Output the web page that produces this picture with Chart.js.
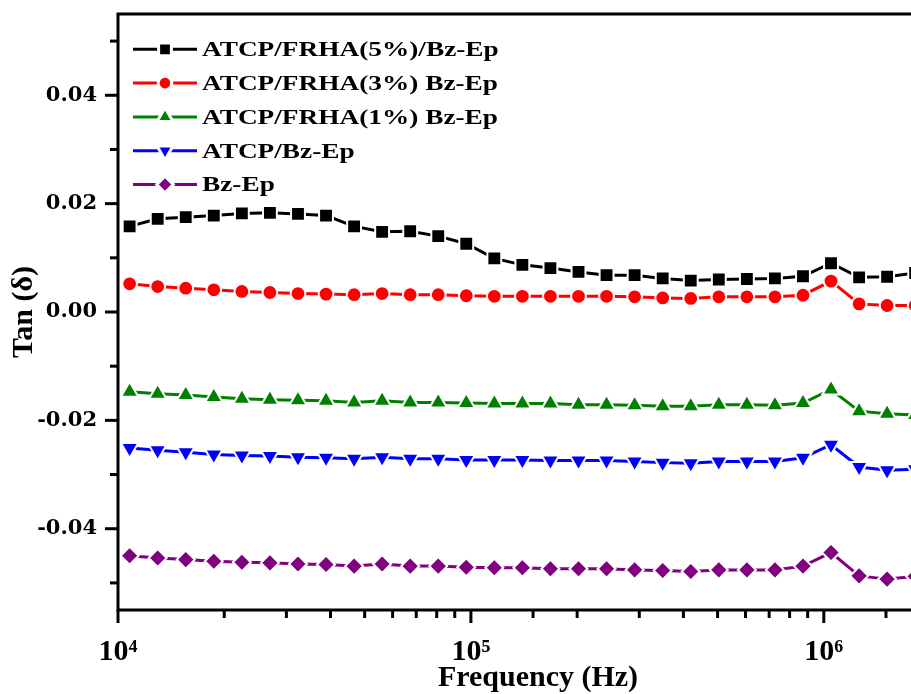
<!DOCTYPE html>
<html><head><meta charset="utf-8">
<script src="https://cdn.jsdelivr.net/npm/chart.js@4.4.1/dist/chart.umd.min.js"></script>
<style>
html,body{margin:0;padding:0;background:#fff;overflow:hidden;width:911px;height:694px}
#wrap{width:970px;height:694px;position:relative}
canvas{display:block}
</style></head><body><div id="wrap"><canvas id="c" width="970" height="694"></canvas></div>
<script>
// ---- data ----
const frequencies = [10787, 12955, 15557, 18684, 22438, 26945, 32359, 38854, 46666, 56028,
  67283, 80798, 97006, 116500, 139900, 168000, 201800, 242300, 291000, 349500,
  419700, 504000, 605300, 726900, 872900, 1048000, 1259000, 1511000, 1815000];
const seriesLabels = ['ATCP/FRHA(5%)/Bz-Ep', 'ATCP/FRHA(3%) Bz-Ep', 'ATCP/FRHA(1%) Bz-Ep', 'ATCP/Bz-Ep', 'Bz-Ep'];
const tanFRHA5 = [0.0158, 0.0172, 0.0175, 0.0178, 0.0182, 0.0183, 0.0181, 0.0178, 0.0158, 0.0148,
  0.0149, 0.0140, 0.0126, 0.0099, 0.0087, 0.0081, 0.0074, 0.0068, 0.0068, 0.0062,
  0.0058, 0.0060, 0.0061, 0.0062, 0.0066, 0.0090, 0.0064, 0.0065, 0.0072];
const tanFRHA3 = [0.0052, 0.0047, 0.0044, 0.0041, 0.0038, 0.0036, 0.0034, 0.0033, 0.0032, 0.0034,
  0.0032, 0.0032, 0.0030, 0.0029, 0.0029, 0.0029, 0.0029, 0.0029, 0.0028, 0.0026,
  0.0025, 0.0028, 0.0028, 0.0028, 0.0031, 0.0057, 0.0015, 0.0012, 0.0012];
const tanFRHA1 = [-0.0147, -0.0151, -0.0153, -0.0157, -0.0160, -0.0162, -0.0163, -0.0164, -0.0167, -0.0164,
  -0.0167, -0.0167, -0.0168, -0.0169, -0.0169, -0.0169, -0.0171, -0.0171, -0.0172, -0.0174,
  -0.0174, -0.0171, -0.0171, -0.0172, -0.0168, -0.0143, -0.0183, -0.0188, -0.0190];
const tanATCP = [-0.0251, -0.0255, -0.0259, -0.0263, -0.0265, -0.0266, -0.0268, -0.0269, -0.0271, -0.0268,
  -0.0271, -0.0271, -0.0273, -0.0273, -0.0273, -0.0274, -0.0274, -0.0274, -0.0276, -0.0278,
  -0.0279, -0.0276, -0.0276, -0.0276, -0.0269, -0.0245, -0.0286, -0.0292, -0.0290];
const tanBzEp = [-0.0450, -0.0454, -0.0457, -0.0460, -0.0462, -0.0463, -0.0465, -0.0466, -0.0469, -0.0465,
  -0.0469, -0.0469, -0.0471, -0.0472, -0.0472, -0.0474, -0.0474, -0.0474, -0.0476, -0.0477,
  -0.0479, -0.0476, -0.0476, -0.0476, -0.0469, -0.0444, -0.0487, -0.0493, -0.0488];
const xTickValues = [1e4, 1e5, 1e6];
const xTickLabels = ['10\u2074', '10\u2075', '10\u2076'];
const yTickSteps = [-0.05, -0.04, -0.03, -0.02, -0.01, 0, 0.01, 0.02, 0.03, 0.04, 0.05];
const yTickValues = [-0.04, -0.02, 0, 0.02, 0.04];
const yTickLabels = ['-0.04', '-0.02', '0.00', '0.02', '0.04'];

// ---- styles ----
const seriesStyles = [
  {color: '#000000', pointStyle: 'rect', radius: 9.8, rotation: 0},
  {color: '#ff0000', pointStyle: 'circle', radius: 7.4, rotation: 0},
  {color: '#008000', pointStyle: 'triangle', radius: 10, rotation: 0},
  {color: '#0000ff', pointStyle: 'triangle', radius: 10, rotation: 180},
  {color: '#800080', pointStyle: 'rectRot', radius: 9, rotation: 0}
];
const seriesValues = [tanFRHA5, tanFRHA3, tanFRHA1, tanATCP, tanBzEp];

const datasets = seriesValues.map((vals, i) => ({
  label: seriesLabels[i],
  data: frequencies.map((f, j) => ({x: f, y: vals[j]})),
  borderColor: seriesStyles[i].color,
  backgroundColor: seriesStyles[i].color,
  pointBackgroundColor: seriesStyles[i].color,
  pointBorderColor: '#ffffff',
  pointBorderWidth: 2,
  borderWidth: 3,
  pointStyle: seriesStyles[i].pointStyle,
  pointRotation: seriesStyles[i].rotation,
  pointRadius: seriesStyles[i].radius,
  tension: 0
}));

const serif = '"Liberation Serif", "Times New Roman", serif';

const framePlugin = {
  id: 'frame',
  afterDraw(chart) {
    const {ctx, chartArea: {left, top, right, bottom}, scales: {x, y}} = chart;
    ctx.save();
    ctx.strokeStyle = '#000';
    ctx.lineCap = 'butt';
    ctx.lineWidth = 3;
    ctx.beginPath();
    ctx.moveTo(left - 1.5, top); ctx.lineTo(right, top);
    ctx.moveTo(left, top); ctx.lineTo(left, bottom + 1.5);
    ctx.moveTo(left - 1.5, bottom); ctx.lineTo(right, bottom);
    ctx.stroke();
    x.ticks.forEach(t => {
      const px = x.getPixelForValue(t.value);
      if (px < left - 1 || px > right - 1) return;
      const len = t.label ? 13 : 8;
      ctx.beginPath(); ctx.moveTo(px, bottom); ctx.lineTo(px, bottom + len); ctx.stroke();
    });
    y.ticks.forEach(t => {
      const py = y.getPixelForValue(t.value);
      if (py < top + 1 || py > bottom - 1) return;
      const len = t.label ? 13 : 8;
      ctx.beginPath(); ctx.moveTo(left, py); ctx.lineTo(left - len, py); ctx.stroke();
    });
    ctx.restore();
  }
};

const legendPlugin = {
  id: 'insideLegend',
  afterDatasetsDraw(chart, args, opts) {
    const {ctx} = chart;
    ctx.save();
    chart.data.datasets.forEach((ds, i) => {
      const cy = opts.top + i * opts.step;
      ctx.strokeStyle = ds.borderColor;
      ctx.lineWidth = ds.borderWidth;
      ctx.beginPath(); ctx.moveTo(opts.lineX0, cy); ctx.lineTo(opts.lineX1, cy); ctx.stroke();
      ctx.fillStyle = ds.pointBackgroundColor;
      ctx.strokeStyle = ds.pointBorderColor;
      const mx = (opts.lineX0 + opts.lineX1) / 2;
      Chart.helpers.drawPoint(ctx, {pointStyle: ds.pointStyle, radius: ds.pointRadius * 0.92, rotation: ds.pointRotation, borderWidth: ds.pointBorderWidth}, mx, cy);
      ctx.fillStyle = '#000';
      ctx.font = 'bold ' + opts.fontSize + 'px ' + serif;
      ctx.textBaseline = 'alphabetic';
      ctx.textAlign = 'left';
      ctx.translate(opts.textX, cy + opts.fontSize * 0.33);
      ctx.scale(opts.stretch, 1);
      ctx.fillText(ds.label, 0, 0);
      ctx.setTransform(1, 0, 0, 1, 0, 0);
    });
    ctx.restore();
  }
};

new Chart(document.getElementById('c'), {
  type: 'line',
  data: {datasets},
  options: {
    responsive: false,
    animation: false,
    devicePixelRatio: 1,
    layout: {padding: {top: 14, right: 4, bottom: 0, left: 0}},
    plugins: {
      legend: {display: false},
      tooltip: {enabled: false},
      insideLegend: {top: 49.3, step: 33.8, lineX0: 133, lineX1: 197, textX: 202, fontSize: 21, stretch: 1.3}
    },
    scales: {
      x: {
        type: 'logarithmic',
        min: 1e4, max: 2.4e6,
        grid: {display: false, drawTicks: false},
        border: {display: false},
        afterFit(scale) { scale.height = 84; scale.paddingLeft = 0; scale.paddingRight = 0; },
        ticks: {
          autoSkip: false, maxRotation: 0, minRotation: 0, padding: 24, color: '#000',
          font: {family: serif, size: 30, weight: 'bold'},
          callback(v) { const i = xTickValues.findIndex(t => Math.abs(t - v) / t < 1e-6); return i >= 0 ? xTickLabels[i] : ''; }
        },
        title: {display: true, text: 'Frequency (Hz)', color: '#000', padding: {top: 0, bottom: 1},
          font: {family: serif, size: 30, weight: 'bold', lineHeight: 1}}
      },
      y: {
        type: 'linear',
        min: -0.055, max: 0.055,
        grid: {display: false, drawTicks: false},
        border: {display: false},
        afterBuildTicks(scale) { scale.ticks = yTickSteps.map(v => ({value: v})); },
        afterFit(scale) { scale.width = 118; scale.paddingTop = 0; scale.paddingBottom = 0; },
        ticks: {
          autoSkip: false, padding: 21, color: '#000',
          font: {family: '"DejaVu Serif", serif', size: 21, weight: 'bold'},
          callback(v) { const i = yTickValues.findIndex(t => Math.abs(t - v) < 1e-9); return i >= 0 ? yTickLabels[i] : ''; }
        },
        title: {display: true, text: 'Tan (\u03b4)', color: '#000', padding: {top: 9, bottom: 0},
          font: {family: serif, size: 30, weight: 'bold', lineHeight: 1}}
      }
    }
  },
  plugins: [framePlugin, legendPlugin]
});
</script></body></html>
